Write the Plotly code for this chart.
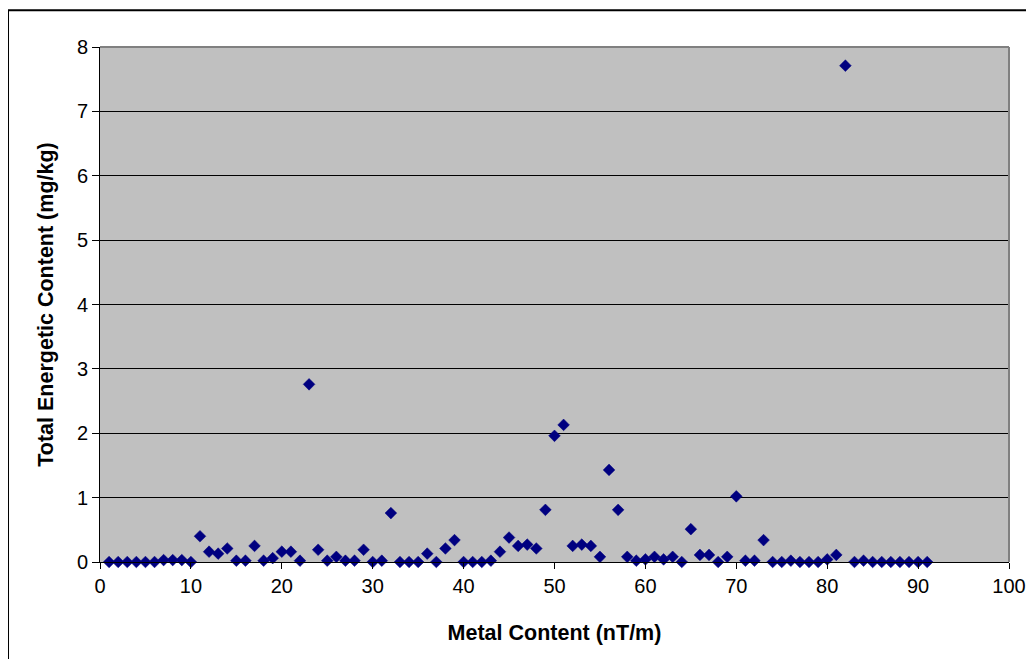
import plotly.graph_objects as go

metal_content = list(range(1, 92))
energetic_content = [
    0, 0, 0, 0, 0, 0, 0.03, 0.03, 0.03, 0,
    0.40, 0.16, 0.13, 0.21, 0.02, 0.02, 0.25, 0.02, 0.06, 0.16,
    0.16, 0.02, 2.76, 0.19, 0.02, 0.08, 0.02, 0.02, 0.19, 0,
    0.02, 0.76, 0, 0, 0, 0.13, 0, 0.21, 0.34, 0,
    0, 0, 0.02, 0.16, 0.38, 0.25, 0.27, 0.21, 0.81, 1.96,
    2.13, 0.25, 0.27, 0.25, 0.08, 1.43, 0.81, 0.08, 0.02, 0.04,
    0.08, 0.04, 0.08, 0, 0.51, 0.11, 0.11, 0, 0.08, 1.02,
    0.02, 0.02, 0.34, 0, 0, 0.02, 0, 0, 0, 0.04,
    0.11, 7.71, 0, 0.02, 0, 0, 0, 0, 0, 0, 0,
]
x_ticks = [0, 10, 20, 30, 40, 50, 60, 70, 80, 90, 100]
y_ticks = [0, 1, 2, 3, 4, 5, 6, 7, 8]

FONT = "Arial, 'Liberation Sans', sans-serif"

fig = go.Figure()
fig.add_trace(go.Scatter(
    x=metal_content, y=energetic_content, mode="markers",
    marker=dict(symbol="diamond", size=9, color="#000080",
                line=dict(width=0.5, color="#000080")),
    cliponaxis=False, showlegend=False,
))

fig.update_layout(
    width=1018, height=651,
    margin=dict(l=92, r=17, t=39, b=97, autoexpand=False),
    paper_bgcolor="white", plot_bgcolor="#C0C0C0",
    font=dict(family=FONT, size=20, color="black"),
    xaxis=dict(
        range=[0, 100], tickvals=x_ticks, ticks="outside", ticklen=6,
        tickcolor="black", showline=True, linecolor="black", linewidth=1,
        showgrid=False, zeroline=False, automargin=False,
        tickfont=dict(size=20),
        title=dict(text="<b>Metal Content (nT/m)</b>", font=dict(size=21.5), standoff=28),
    ),
    yaxis=dict(
        range=[0, 8], tickvals=y_ticks, ticks="outside", ticklen=7,
        tickcolor="black", showline=True, linecolor="black", linewidth=1,
        showgrid=True, gridcolor="black", gridwidth=1, zeroline=False, automargin=False,
        tickfont=dict(size=20),
        title=dict(text="<b>Total Energetic Content (mg/kg)</b>", font=dict(size=21.5), standoff=17),
    ),
    shapes=[
        dict(type="line", xref="paper", yref="paper", x0=0, x1=1, y0=1, y1=1,
             line=dict(color="#808080", width=2), layer="above"),
        dict(type="line", xref="paper", yref="paper", x0=1, x1=1, y0=0, y1=1,
             line=dict(color="#808080", width=2), layer="above"),
        dict(type="path", xref="paper", yref="paper",
             path="M -0.1012,-0.3 L -0.1012,1.0712 L 1.06,1.0712",
             line=dict(color="black", width=2), layer="above"),
    ],
)

fig.write_html("out.html")
